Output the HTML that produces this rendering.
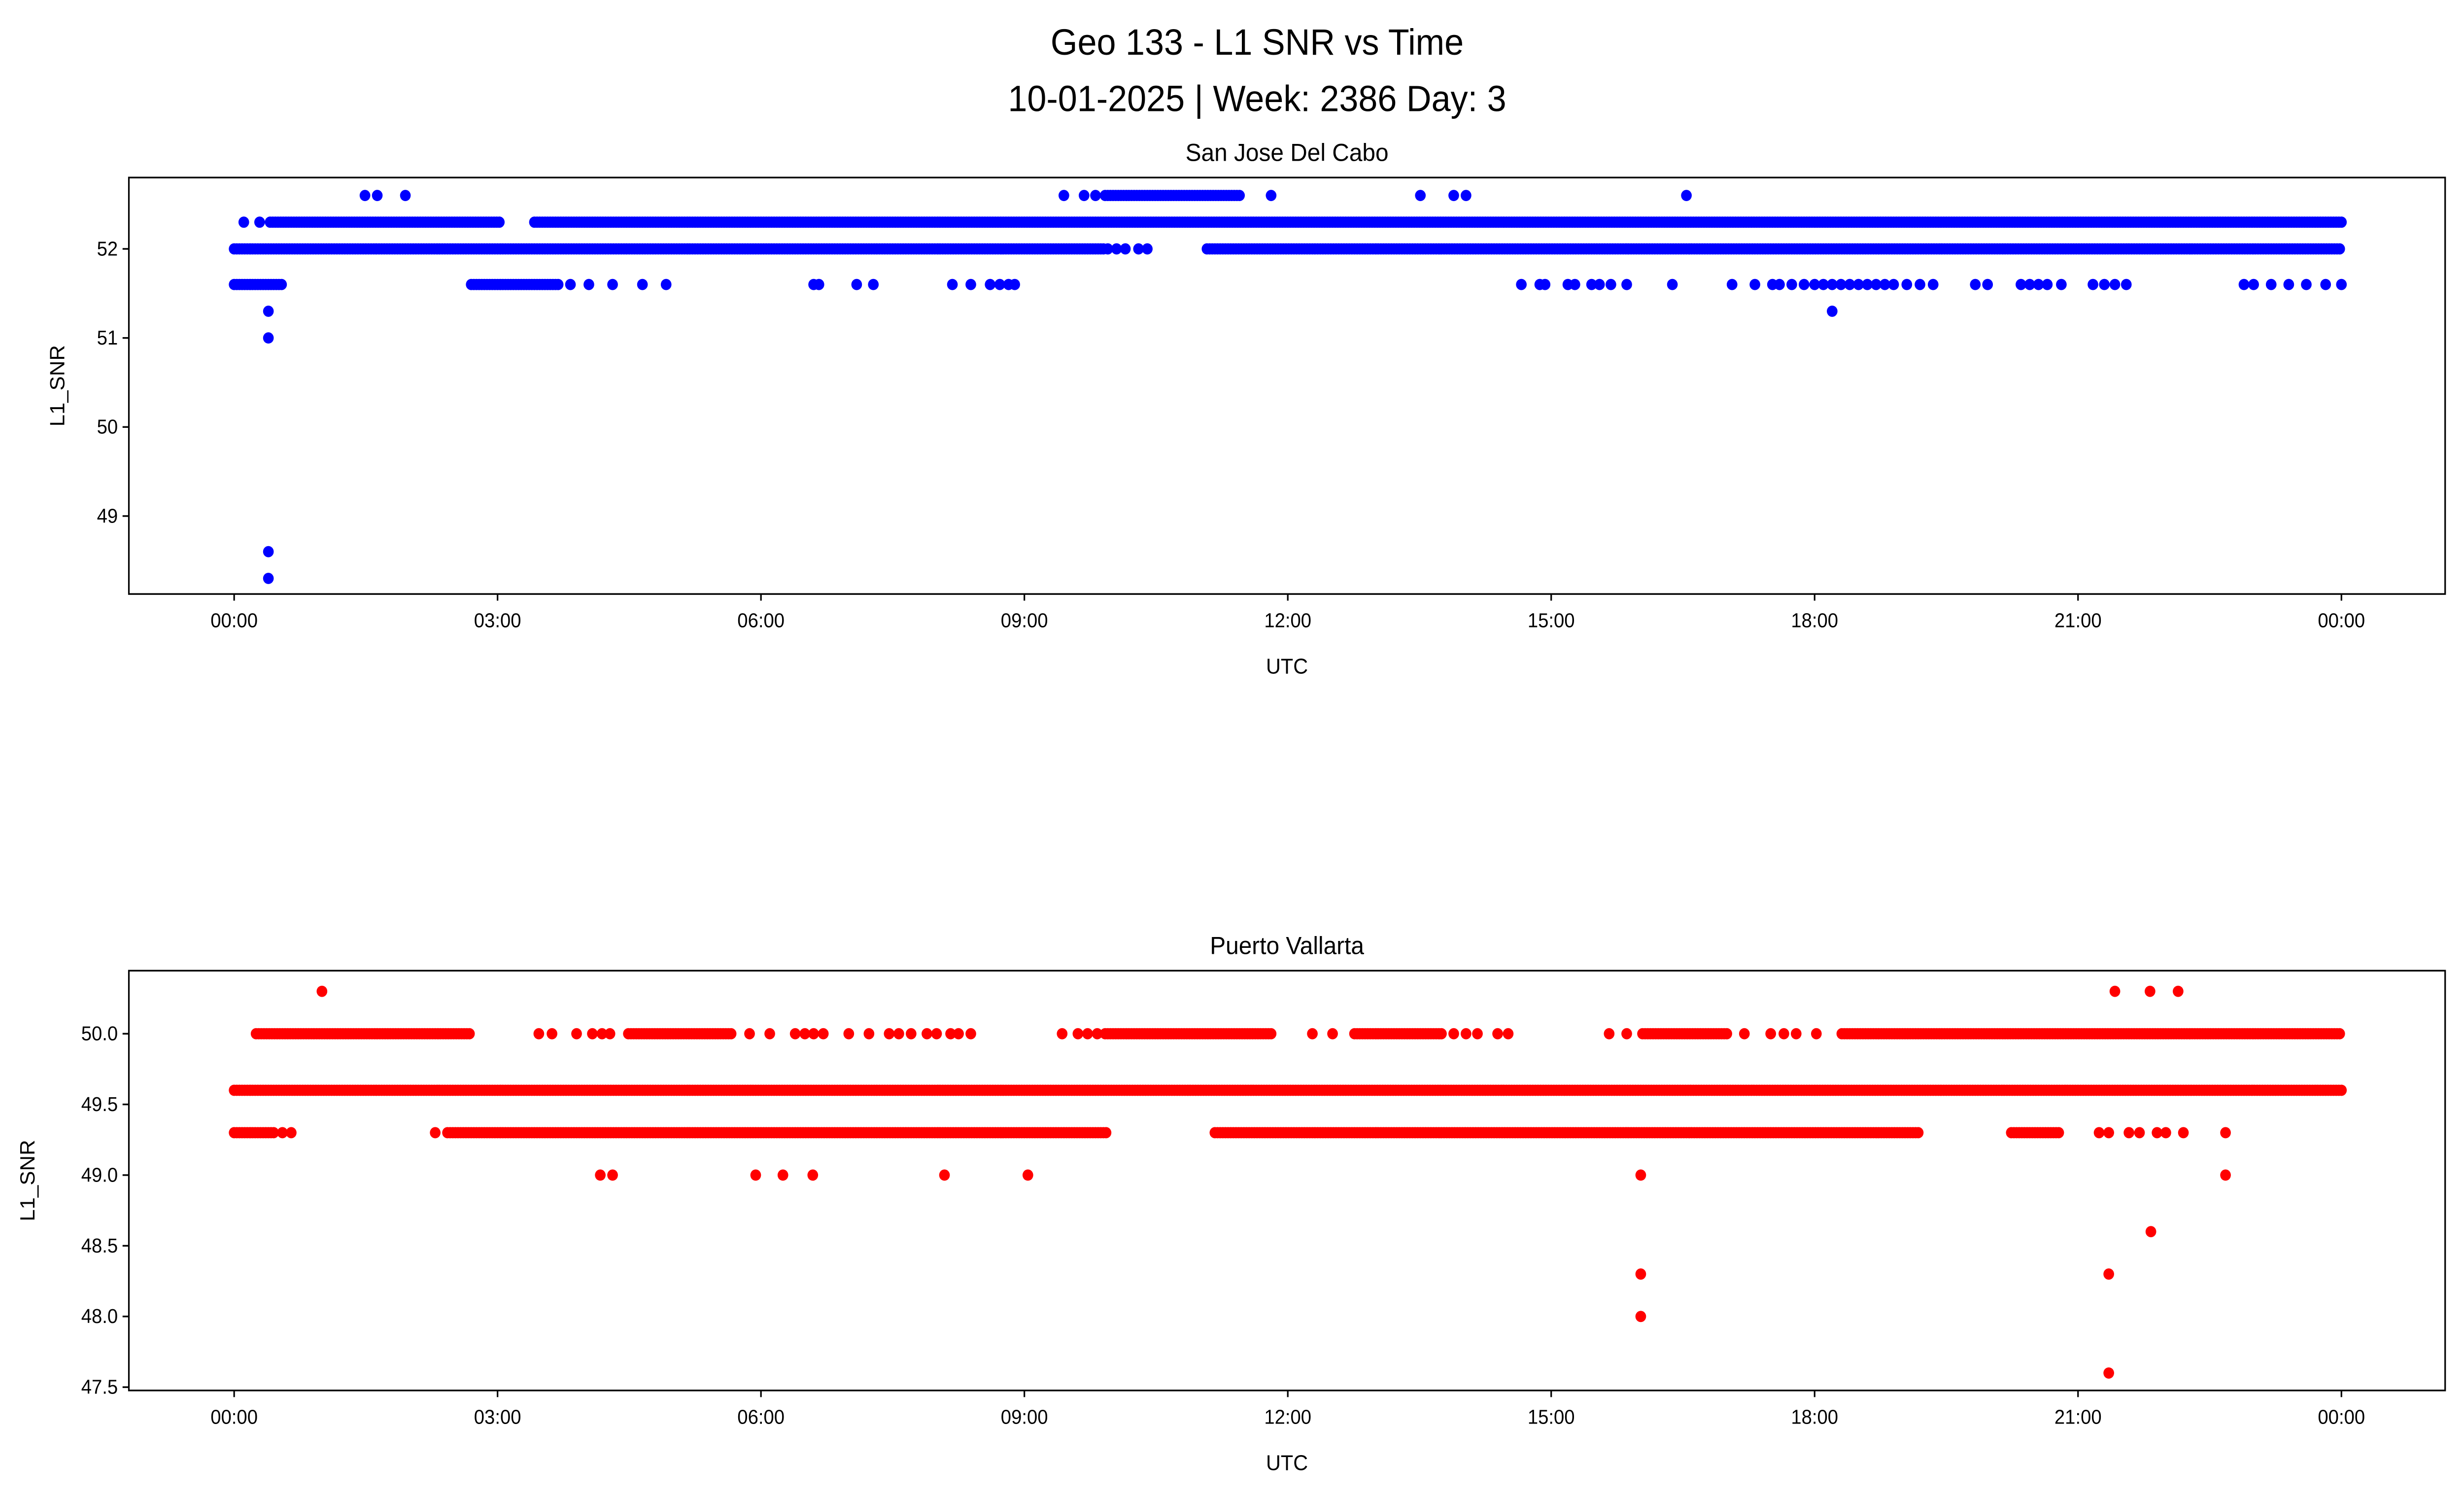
<!DOCTYPE html>
<html><head><meta charset="utf-8"><style>
html,body{margin:0;padding:0;background:#fff;overflow:hidden;width:100%;height:100%}
svg{display:block;width:100vw;height:100vh;font-family:"Liberation Sans","DejaVu Sans",sans-serif}
</style></head><body>
<svg id="fig" viewBox="0 0 1568 901" preserveAspectRatio="none" xmlns="http://www.w3.org/2000/svg">
<rect width="1568" height="901" fill="#fff"/>
<text x="800" y="33" font-size="22" text-anchor="middle">Geo 133 - L1 SNR vs Time</text>
<text x="800" y="67" font-size="22" text-anchor="middle">10-01-2025 | Week: 2386 Day: 3</text>
<g id="top"></g>
<g id="bot"></g>
</svg>
<script>
// ---- data (hours UTC, L1 SNR) ----
const xTickLabels=["00:00","03:00","06:00","09:00","12:00","15:00","18:00","21:00","00:00"];
const xTickHours=[0,3,6,9,12,15,18,21,24];
const topTicks=[49,50,51,52];
const botTicks=[47.5,48.0,48.5,49.0,49.5,50.0];
// dense runs: [startHour, endHour, value]
const sjRuns=[[0,9.9,52],[11.08,24,52],[0.41,3.02,52.3],[3.42,24,52.3],[0,0.55,51.6],[2.70,3.69,51.6],[9.92,11.47,52.6]];
const sjPointsT=[0.11,0.29,9.95,10.05,10.15,10.3,10.4,3.83,4.04,4.31,4.65,4.92,6.60,6.66,7.09,7.28,8.18,8.39,8.61,8.72,8.82,8.89,14.66,14.87,14.93,15.19,15.27,15.46,15.55,15.68,15.86,16.38,17.06,17.32,17.52,17.6,17.74,17.88,18.0,18.1,18.2,18.3,18.4,18.5,18.6,18.7,18.8,18.9,19.05,19.2,19.35,19.83,19.97,20.35,20.45,20.55,20.65,20.81,21.17,21.3,21.42,21.55,22.89,23.0,23.2,23.4,23.6,23.82,24,1.49,1.63,1.95,9.45,9.68,9.81,11.81,13.51,13.89,14.03,16.54,0.39,18.2,0.39,0.39,0.39];
const sjPointsV=[52.3,52.3,52,52,52,52,52,51.6,51.6,51.6,51.6,51.6,51.6,51.6,51.6,51.6,51.6,51.6,51.6,51.6,51.6,51.6,51.6,51.6,51.6,51.6,51.6,51.6,51.6,51.6,51.6,51.6,51.6,51.6,51.6,51.6,51.6,51.6,51.6,51.6,51.6,51.6,51.6,51.6,51.6,51.6,51.6,51.6,51.6,51.6,51.6,51.6,51.6,51.6,51.6,51.6,51.6,51.6,51.6,51.6,51.6,51.6,51.6,51.6,51.6,51.6,51.6,51.6,51.6,52.6,52.6,52.6,52.6,52.6,52.6,52.6,52.6,52.6,52.6,52.6,51.3,51.3,51.0,48.6,48.3];
const pvRuns=[[0,24,49.6],[0.25,2.70,50.0],[4.49,5.67,50.0],[9.92,11.83,50.0],[12.76,13.76,50.0],[16.04,17.02,50.0],[18.31,24,50.0],[0,0.45,49.3],[2.43,9.95,49.3],[11.17,19.2,49.3],[20.24,20.78,49.3]];
const pvPointsT=[3.47,3.62,3.90,4.08,4.19,4.28,5.87,6.10,6.39,6.50,6.60,6.71,7.0,7.23,7.46,7.57,7.71,7.89,8.0,8.16,8.25,8.39,9.43,9.61,9.72,9.83,12.28,12.51,13.89,14.03,14.16,14.39,14.51,15.66,15.86,17.2,17.5,17.65,17.79,18.02,0.55,0.65,2.29,21.24,21.35,21.58,21.7,21.9,22.0,22.2,22.68,4.17,4.31,5.94,6.25,6.59,8.09,9.04,16.02,22.68,1.0,21.42,21.82,22.14,16.02,21.35,16.02,21.83,21.35];
const pvPointsV=[50,50,50,50,50,50,50,50,50,50,50,50,50,50,50,50,50,50,50,50,50,50,50,50,50,50,50,50,50,50,50,50,50,50,50,50,50,50,50,50,49.3,49.3,49.3,49.3,49.3,49.3,49.3,49.3,49.3,49.3,49.3,49.0,49.0,49.0,49.0,49.0,49.0,49.0,49.0,49.0,50.3,50.3,50.3,50.3,48.3,48.3,48.0,48.6,47.6];

const NS="http://www.w3.org/2000/svg";
function mk(parent,tag,attrs,txt){const e=document.createElementNS(NS,tag);for(const k in attrs)e.setAttribute(k,attrs[k]);if(txt!==undefined)e.textContent=txt;parent.appendChild(e);return e;}
const xL=82,xR=1556,x0=149,x24=1490;
const xs=h=>x0+(x24-x0)*h/24;

function panel(g,cfg){
  const ys=v=>cfg.y0+(cfg.v0-v)*cfg.ppu;
  const marks=mk(g,'g',{});
  
  
  const dot=(h,v)=>{const c=mk(marks,'circle',{cx:xs(h),cy:ys(v),r:3.4,fill:cfg.color});
    
    };
  cfg.runs.forEach(r=>{for(let h=r[0];h<=r[1]+1e-9;h+=0.03)dot(h,r[2]);});
  cfg.pt.forEach((t,i)=>dot(t,cfg.pv[i]));
  const fr=mk(g,'rect',{x:xL,y:cfg.top,width:xR-xL,height:cfg.bot-cfg.top,fill:'none',stroke:'#000','stroke-width':1});
  
  
  xTickHours.forEach((h,i)=>{
    mk(g,'line',{x1:xs(h),x2:xs(h),y1:cfg.bot,y2:cfg.bot+4,stroke:'#000'});
    const t=mk(g,'text',{x:xs(h),y:cfg.bot+20,'font-size':12,'text-anchor':'middle'},xTickLabels[i]);
    
    
  });
  cfg.ticks.forEach(v=>{
    mk(g,'line',{x1:xL-4,x2:xL,y1:ys(v),y2:ys(v),stroke:'#000'});
    const t=mk(g,'text',{x:xL-7,y:ys(v)+4,'font-size':12,'text-anchor':'end'},cfg.fmt(v));
    
    
  });
  const xt=mk(g,'text',{x:(xL+xR)/2,y:cfg.bot+48,'font-size':13,'text-anchor':'middle'},'UTC');
  
  
  const yt=mk(g,'text',{x:0,y:0,'font-size':13,'text-anchor':'middle',transform:`translate(${cfg.ylx},${(cfg.top+cfg.bot)/2}) rotate(-90)`},'L1_SNR');
  
  
  const st=mk(g,'text',{x:(xL+xR)/2,y:cfg.top-10,'font-size':15,'text-anchor':'middle'},cfg.title);
  
  
}
panel(document.getElementById('top'),{top:107,bot:358,y0:150,v0:52,ppu:53.67,color:'#0000ff',runs:sjRuns,pt:sjPointsT,pv:sjPointsV,ticks:topTicks,fmt:v=>String(v),ylx:41,title:'San Jose Del Cabo'});
panel(document.getElementById('bot'),{top:585,bot:838,y0:623,v0:50,ppu:85.2,color:'#ff0000',runs:pvRuns,pt:pvPointsT,pv:pvPointsV,ticks:botTicks,fmt:v=>v.toFixed(1),ylx:22,title:'Puerto Vallarta'});
</script>
</body></html>
